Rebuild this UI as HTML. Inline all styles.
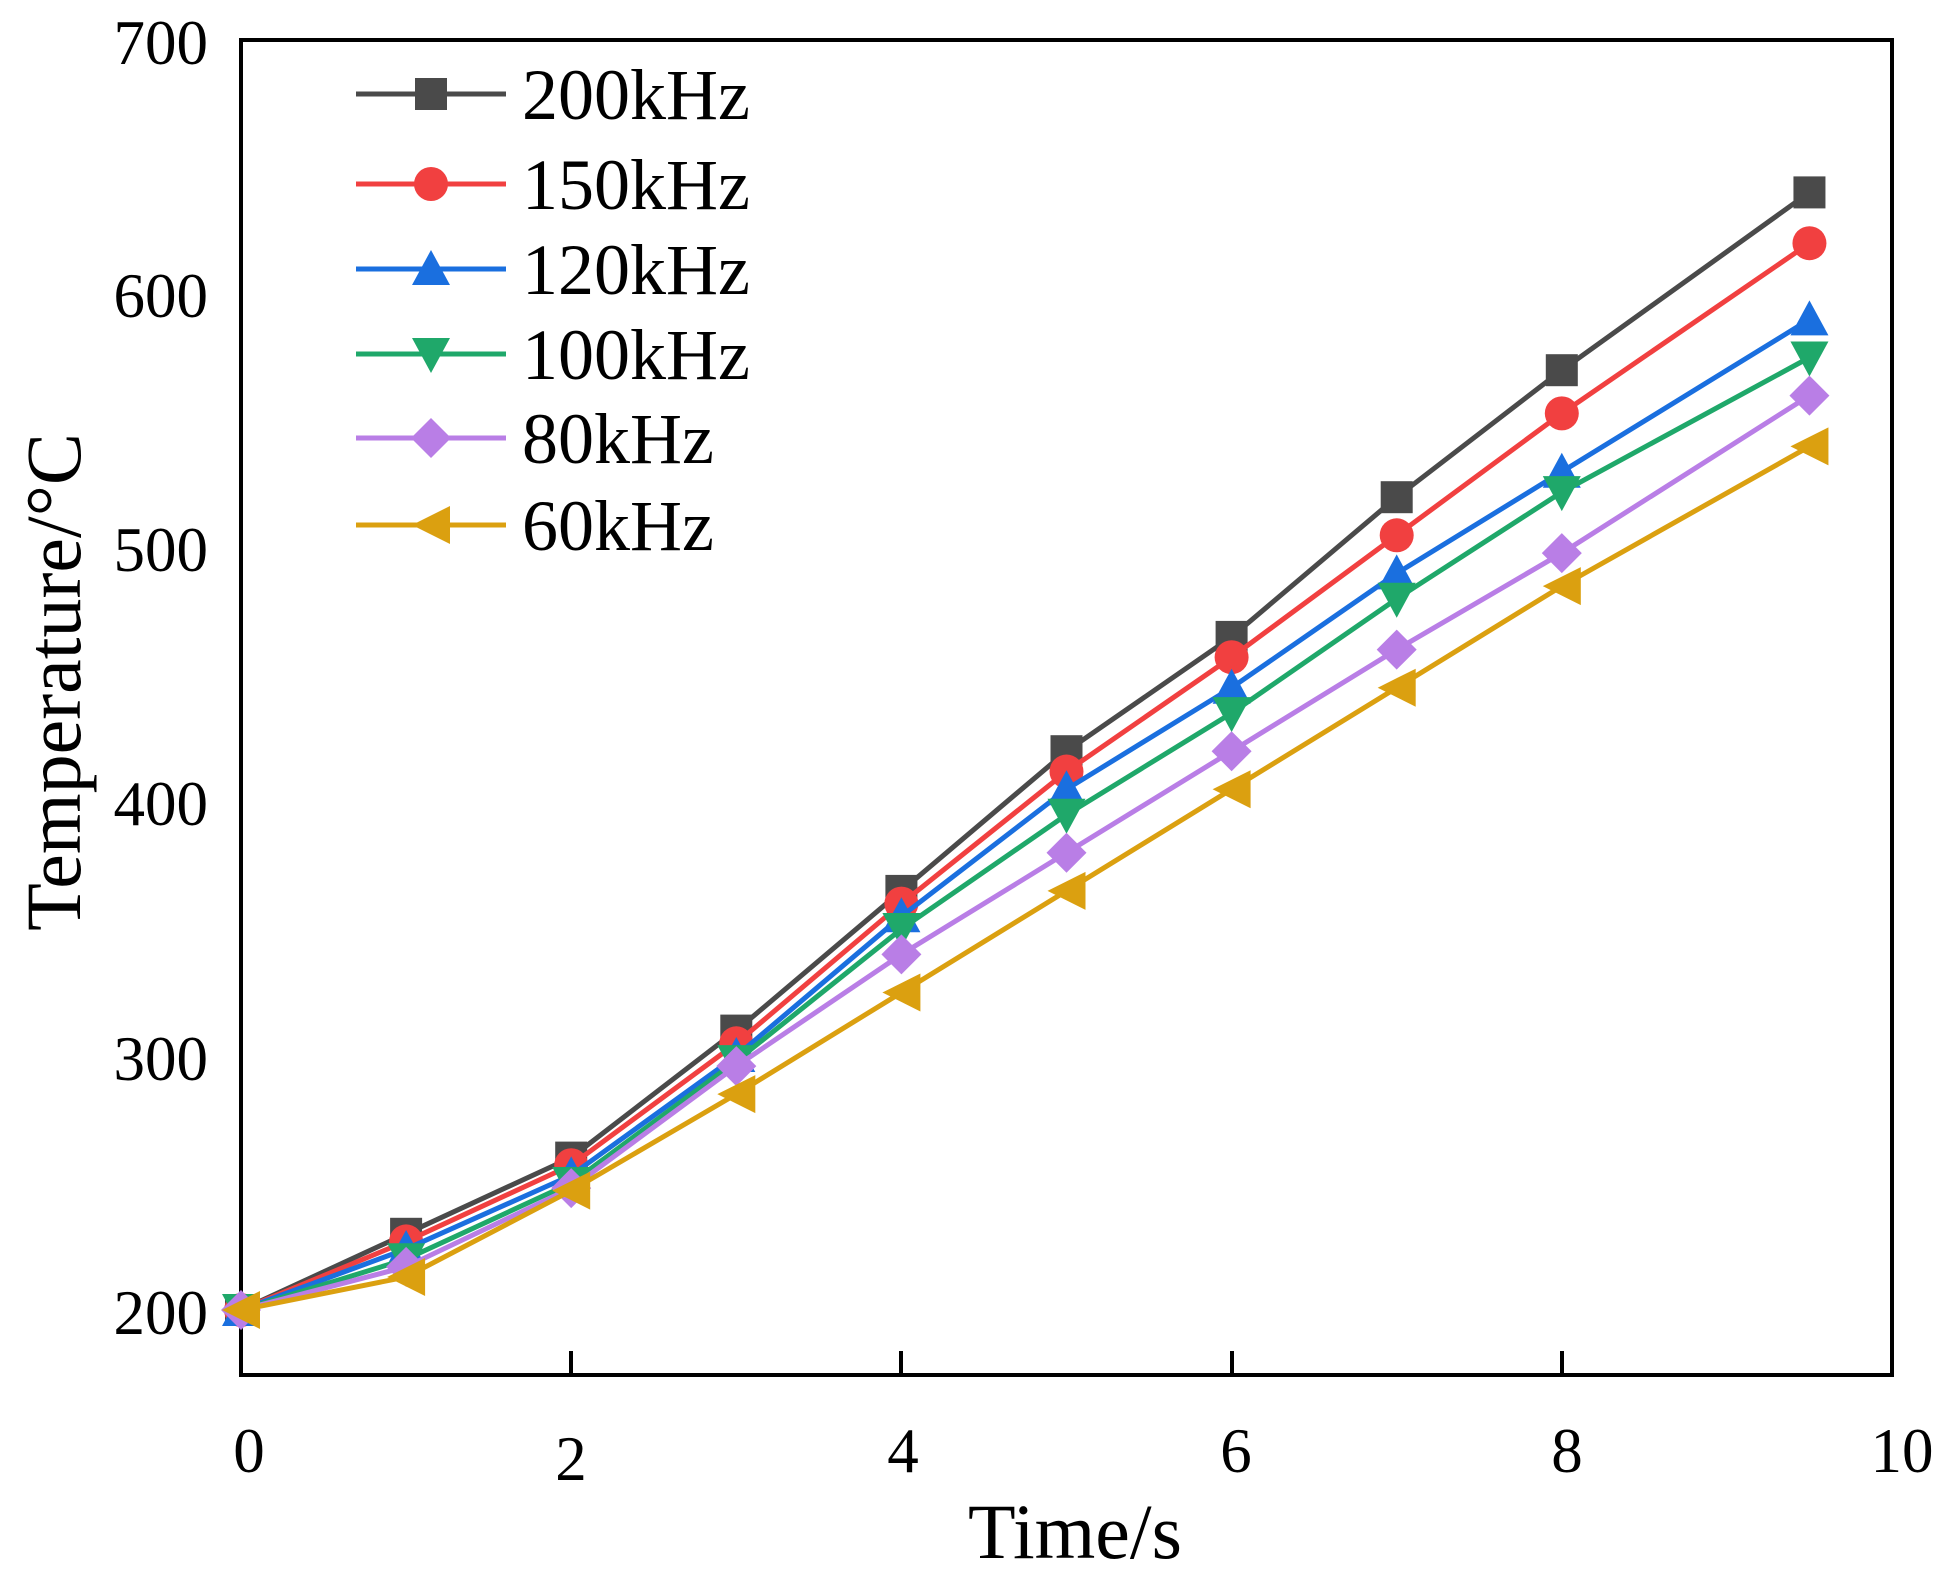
<!DOCTYPE html>
<html><head><meta charset="utf-8"><style>
html,body{margin:0;padding:0;background:#fff;}
svg text{font-family:"Liberation Serif",serif;fill:#000;}
</style></head><body>
<svg id="s" width="1950" height="1582" viewBox="0 0 1950 1582" xmlns="http://www.w3.org/2000/svg">
<rect x="241" y="40" width="1651" height="1335" fill="none" stroke="#000" stroke-width="4"/>
<g stroke="#000" stroke-width="4">
<line x1="571" y1="1375" x2="571" y2="1351"/><line x1="901" y1="1375" x2="901" y2="1351"/>
<line x1="1232" y1="1375" x2="1232" y2="1351"/><line x1="1562" y1="1375" x2="1562" y2="1351"/>
</g>
<g font-size="63" text-anchor="end">
<text x="208" y="1334">200</text><text x="208" y="1080">300</text><text x="208" y="825">400</text>
<text x="208" y="571">500</text><text x="208" y="317">600</text><text x="208" y="64">700</text>
</g>
<g font-size="63" text-anchor="middle">
<text x="249" y="1472">0</text><text x="571" y="1480">2</text><text x="903" y="1472">4</text>
<text x="1236" y="1472">6</text><text x="1567" y="1472">8</text><text x="1902" y="1472">10</text>
</g>
<text x="1075" y="1558" font-size="78" text-anchor="middle">Time/s</text>
<text transform="translate(80,682) rotate(-90)" font-size="78" text-anchor="middle">Temperature/°C</text>
<g id="g"></g>
</svg>
<script>
var X=function(t){return 241+165.1*t},Y=function(v){return 40+(700-v)*2.54};
var ts=[0,1,2,3,4,5,6,7,8,9.5];
var S=[
["200kHz","#4a4a4a","sq",[200,230,260,310,365,420,465,520,570,640]],
["150kHz","#f14040","ci",[200,227,257,305,360,412,457,505,553,620]],
["120kHz","#1a6fdf","up",[200,224,253,300,355,405,445,490,530,590]],
["100kHz","#1fa86a","dn",[200,220,250,298,350,395,435,480,522,575]],
["80kHz","#b97ee6","di",[200,217,248,296,340,380,420,460,498,560]],
["60kHz","#dba010","le",[200,213,247,285,325,365,405,445,485,540]]];
function mk(k,x,y,c){var r=16;
if(k=="sq")return '<rect x="'+(x-r)+'" y="'+(y-r)+'" width="'+2*r+'" height="'+2*r+'" fill="'+c+'"/>';
if(k=="ci")return '<circle cx="'+x+'" cy="'+y+'" r="'+(r+1)+'" fill="'+c+'"/>';
var p;
if(k=="up")p=[[x,y-r-3],[x+r+3,y+r],[x-r-3,y+r]];
if(k=="dn")p=[[x,y+r+3],[x+r+3,y-r],[x-r-3,y-r]];
if(k=="di")p=[[x,y-r-4],[x+r+4,y],[x,y+r+4],[x-r-4,y]];
if(k=="le")p=[[x-r-3,y],[x+r+3,y-r-3],[x+r+3,y+r+3]];
return '<polygon points="'+p.map(function(a){return a.join(",")}).join(" ")+'" fill="'+c+'"/>';}
var h="",ly=[94,184,269,354,438,525];
S.forEach(function(s,i){
var pts=ts.map(function(t,j){return X(t)+","+Y(s[3][j])}).join(" ");
h+='<polyline points="'+pts+'" fill="none" stroke="'+s[1]+'" stroke-width="5"/>';
ts.forEach(function(t,j){h+=mk(s[2],X(t),Y(s[3][j]),s[1])});
h+='<line x1="356" y1="'+ly[i]+'" x2="506" y2="'+ly[i]+'" stroke="'+s[1]+'" stroke-width="5"/>';
h+=mk(s[2],431,ly[i],s[1]);
h+='<text x="522" y="'+(ly[i]+25)+'" font-size="72">'+s[0]+'</text>';});
document.getElementById("g").innerHTML=h;
</script>
</body></html>
